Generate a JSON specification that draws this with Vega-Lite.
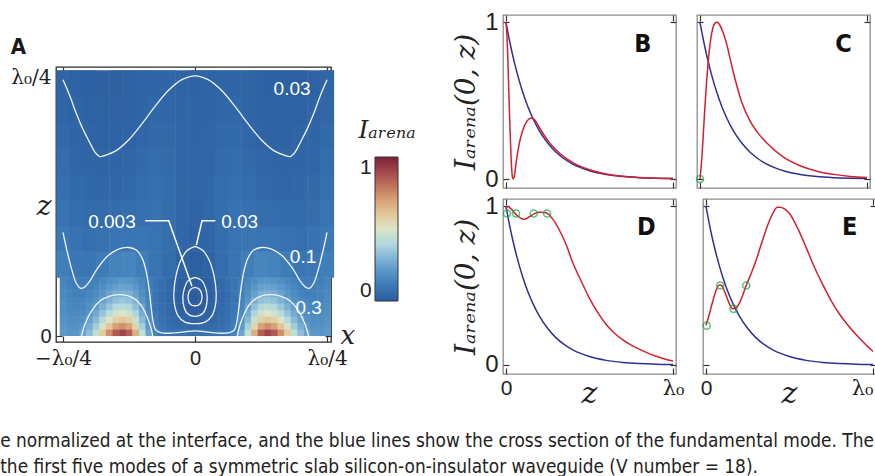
{
"$schema": "https://vega.github.io/schema/vega-lite/v6.json",
"background": "white",
"padding": {"left": 0, "top": 9, "right": 0, "bottom": 0},
"config": {
  "font": "Liberation Sans",
  "axis": {"domain": false, "grid": false, "tickColor": "#333", "tickWidth": 1.2, "tickSize": -6, "labelColor": "#222", "titleColor": "#222", "labelFlush": false, "labelOverlap": false}
},
"title": {"text": ["e normalized at the interface, and the blue lines show the cross section of the fundamental mode. The", " the first five modes of a symmetric slab silicon-on-insulator waveguide (V number = 18)."], "orient": "bottom", "anchor": "start", "font": "DejaVu Sans Condensed, Liberation Sans", "fontSize": 18.9, "fontWeight": "normal", "color": "#222", "lineHeight": 26, "offset": 23, "dx": -10},
"datasets": {
"hb": [
{"x":-1,"z":0.0125,"v":0.218},{"x":-0.95,"z":0.0125,"v":0.203},{"x":-0.9,"z":0.0125,"v":0.207},{"x":-0.85,"z":0.0125,"v":0.245},{"x":-0.8,"z":0.0125,"v":0.321},{"x":-0.75,"z":0.0125,"v":0.439},{"x":-0.7,"z":0.0125,"v":0.588},{"x":-0.65,"z":0.0125,"v":0.74},{"x":-0.6,"z":0.0125,"v":0.857},{"x":-0.55,"z":0.0125,"v":0.903},{"x":-0.5,"z":0.0125,"v":0.846},{"x":-0.45,"z":0.0125,"v":0.668},{"x":-0.4,"z":0.0125,"v":0.441},{"x":-0.35,"z":0.0125,"v":0.247},{"x":-0.3,"z":0.0125,"v":0.139},{"x":-0.25,"z":0.0125,"v":0.095},{"x":-0.2,"z":0.0125,"v":0.084},{"x":-0.15,"z":0.0125,"v":0.08},{"x":-0.1,"z":0.0125,"v":0.079},{"x":-0.05,"z":0.0125,"v":0.076},{"x":0,"z":0.0125,"v":0.076},{"x":0.05,"z":0.0125,"v":0.076},{"x":0.1,"z":0.0125,"v":0.079},{"x":0.15,"z":0.0125,"v":0.08},{"x":0.2,"z":0.0125,"v":0.084},{"x":0.25,"z":0.0125,"v":0.095},{"x":0.3,"z":0.0125,"v":0.139},{"x":0.35,"z":0.0125,"v":0.247},{"x":0.4,"z":0.0125,"v":0.441},{"x":0.45,"z":0.0125,"v":0.668},{"x":0.5,"z":0.0125,"v":0.846},{"x":0.55,"z":0.0125,"v":0.903},{"x":0.6,"z":0.0125,"v":0.857},{"x":0.65,"z":0.0125,"v":0.74},{"x":0.7,"z":0.0125,"v":0.588},{"x":0.75,"z":0.0125,"v":0.439},{"x":0.8,"z":0.0125,"v":0.321},{"x":0.85,"z":0.0125,"v":0.245},{"x":0.9,"z":0.0125,"v":0.207},{"x":0.95,"z":0.0125,"v":0.203},{"x":1,"z":0.0125,"v":0.218},
{"x":-1,"z":0.0375,"v":0.206},{"x":-0.95,"z":0.0375,"v":0.189},{"x":-0.9,"z":0.0375,"v":0.189},{"x":-0.85,"z":0.0375,"v":0.217},{"x":-0.8,"z":0.0375,"v":0.275},{"x":-0.75,"z":0.0375,"v":0.368},{"x":-0.7,"z":0.0375,"v":0.487},{"x":-0.65,"z":0.0375,"v":0.608},{"x":-0.6,"z":0.0375,"v":0.701},{"x":-0.55,"z":0.0375,"v":0.739},{"x":-0.5,"z":0.0375,"v":0.695},{"x":-0.45,"z":0.0375,"v":0.553},{"x":-0.4,"z":0.0375,"v":0.371},{"x":-0.35,"z":0.0375,"v":0.212},{"x":-0.3,"z":0.0375,"v":0.121},{"x":-0.25,"z":0.0375,"v":0.081},{"x":-0.2,"z":0.0375,"v":0.066},{"x":-0.15,"z":0.0375,"v":0.057},{"x":-0.1,"z":0.0375,"v":0.051},{"x":-0.05,"z":0.0375,"v":0.046},{"x":0,"z":0.0375,"v":0.045},{"x":0.05,"z":0.0375,"v":0.046},{"x":0.1,"z":0.0375,"v":0.051},{"x":0.15,"z":0.0375,"v":0.057},{"x":0.2,"z":0.0375,"v":0.066},{"x":0.25,"z":0.0375,"v":0.081},{"x":0.3,"z":0.0375,"v":0.121},{"x":0.35,"z":0.0375,"v":0.212},{"x":0.4,"z":0.0375,"v":0.371},{"x":0.45,"z":0.0375,"v":0.553},{"x":0.5,"z":0.0375,"v":0.695},{"x":0.55,"z":0.0375,"v":0.739},{"x":0.6,"z":0.0375,"v":0.701},{"x":0.65,"z":0.0375,"v":0.608},{"x":0.7,"z":0.0375,"v":0.487},{"x":0.75,"z":0.0375,"v":0.368},{"x":0.8,"z":0.0375,"v":0.275},{"x":0.85,"z":0.0375,"v":0.217},{"x":0.9,"z":0.0375,"v":0.189},{"x":0.95,"z":0.0375,"v":0.189},{"x":1,"z":0.0375,"v":0.206},
{"x":-1,"z":0.0625,"v":0.195},{"x":-0.95,"z":0.0625,"v":0.178},{"x":-0.9,"z":0.0625,"v":0.174},{"x":-0.85,"z":0.0625,"v":0.193},{"x":-0.8,"z":0.0625,"v":0.238},{"x":-0.75,"z":0.0625,"v":0.311},{"x":-0.7,"z":0.0625,"v":0.405},{"x":-0.65,"z":0.0625,"v":0.502},{"x":-0.6,"z":0.0625,"v":0.577},{"x":-0.55,"z":0.0625,"v":0.608},{"x":-0.5,"z":0.0625,"v":0.573},{"x":-0.45,"z":0.0625,"v":0.461},{"x":-0.4,"z":0.0625,"v":0.316},{"x":-0.35,"z":0.0625,"v":0.186},{"x":-0.3,"z":0.0625,"v":0.108},{"x":-0.25,"z":0.0625,"v":0.072},{"x":-0.2,"z":0.0625,"v":0.054},{"x":-0.15,"z":0.0625,"v":0.042},{"x":-0.1,"z":0.0625,"v":0.032},{"x":-0.05,"z":0.0625,"v":0.026},{"x":0,"z":0.0625,"v":0.025},{"x":0.05,"z":0.0625,"v":0.026},{"x":0.1,"z":0.0625,"v":0.032},{"x":0.15,"z":0.0625,"v":0.042},{"x":0.2,"z":0.0625,"v":0.054},{"x":0.25,"z":0.0625,"v":0.072},{"x":0.3,"z":0.0625,"v":0.108},{"x":0.35,"z":0.0625,"v":0.186},{"x":0.4,"z":0.0625,"v":0.316},{"x":0.45,"z":0.0625,"v":0.461},{"x":0.5,"z":0.0625,"v":0.573},{"x":0.55,"z":0.0625,"v":0.608},{"x":0.6,"z":0.0625,"v":0.577},{"x":0.65,"z":0.0625,"v":0.502},{"x":0.7,"z":0.0625,"v":0.405},{"x":0.75,"z":0.0625,"v":0.311},{"x":0.8,"z":0.0625,"v":0.238},{"x":0.85,"z":0.0625,"v":0.193},{"x":0.9,"z":0.0625,"v":0.174},{"x":0.95,"z":0.0625,"v":0.178},{"x":1,"z":0.0625,"v":0.195},
{"x":-1,"z":0.0875,"v":0.185},{"x":-0.95,"z":0.0875,"v":0.167},{"x":-0.9,"z":0.0875,"v":0.16},{"x":-0.85,"z":0.0875,"v":0.173},{"x":-0.8,"z":0.0875,"v":0.207},{"x":-0.75,"z":0.0875,"v":0.264},{"x":-0.7,"z":0.0875,"v":0.339},{"x":-0.65,"z":0.0875,"v":0.416},{"x":-0.6,"z":0.0875,"v":0.476},{"x":-0.55,"z":0.0875,"v":0.502},{"x":-0.5,"z":0.0875,"v":0.475},{"x":-0.45,"z":0.0875,"v":0.387},{"x":-0.4,"z":0.0875,"v":0.271},{"x":-0.35,"z":0.0875,"v":0.165},{"x":-0.3,"z":0.0875,"v":0.1},{"x":-0.25,"z":0.0875,"v":0.067},{"x":-0.2,"z":0.0875,"v":0.048},{"x":-0.15,"z":0.0875,"v":0.033},{"x":-0.1,"z":0.0875,"v":0.021},{"x":-0.05,"z":0.0875,"v":0.014},{"x":0,"z":0.0875,"v":0.012},{"x":0.05,"z":0.0875,"v":0.014},{"x":0.1,"z":0.0875,"v":0.021},{"x":0.15,"z":0.0875,"v":0.033},{"x":0.2,"z":0.0875,"v":0.048},{"x":0.25,"z":0.0875,"v":0.067},{"x":0.3,"z":0.0875,"v":0.1},{"x":0.35,"z":0.0875,"v":0.165},{"x":0.4,"z":0.0875,"v":0.271},{"x":0.45,"z":0.0875,"v":0.387},{"x":0.5,"z":0.0875,"v":0.475},{"x":0.55,"z":0.0875,"v":0.502},{"x":0.6,"z":0.0875,"v":0.476},{"x":0.65,"z":0.0875,"v":0.416},{"x":0.7,"z":0.0875,"v":0.339},{"x":0.75,"z":0.0875,"v":0.264},{"x":0.8,"z":0.0875,"v":0.207},{"x":0.85,"z":0.0875,"v":0.173},{"x":0.9,"z":0.0875,"v":0.16},{"x":0.95,"z":0.0875,"v":0.167},{"x":1,"z":0.0875,"v":0.185},
{"x":-1,"z":0.1125,"v":0.175},{"x":-0.95,"z":0.1125,"v":0.157},{"x":-0.9,"z":0.1125,"v":0.148},{"x":-0.85,"z":0.1125,"v":0.157},{"x":-0.8,"z":0.1125,"v":0.182},{"x":-0.75,"z":0.1125,"v":0.226},{"x":-0.7,"z":0.1125,"v":0.286},{"x":-0.65,"z":0.1125,"v":0.347},{"x":-0.6,"z":0.1125,"v":0.396},{"x":-0.55,"z":0.1125,"v":0.417},{"x":-0.5,"z":0.1125,"v":0.396},{"x":-0.45,"z":0.1125,"v":0.328},{"x":-0.4,"z":0.1125,"v":0.235},{"x":-0.35,"z":0.1125,"v":0.149},{"x":-0.3,"z":0.1125,"v":0.094},{"x":-0.25,"z":0.1125,"v":0.065},{"x":-0.2,"z":0.1125,"v":0.045},{"x":-0.15,"z":0.1125,"v":0.028},{"x":-0.1,"z":0.1125,"v":0.014},{"x":-0.05,"z":0.1125,"v":0.007},{"x":0,"z":0.1125,"v":0.004},{"x":0.05,"z":0.1125,"v":0.007},{"x":0.1,"z":0.1125,"v":0.014},{"x":0.15,"z":0.1125,"v":0.028},{"x":0.2,"z":0.1125,"v":0.045},{"x":0.25,"z":0.1125,"v":0.065},{"x":0.3,"z":0.1125,"v":0.094},{"x":0.35,"z":0.1125,"v":0.149},{"x":0.4,"z":0.1125,"v":0.235},{"x":0.45,"z":0.1125,"v":0.328},{"x":0.5,"z":0.1125,"v":0.396},{"x":0.55,"z":0.1125,"v":0.417},{"x":0.6,"z":0.1125,"v":0.396},{"x":0.65,"z":0.1125,"v":0.347},{"x":0.7,"z":0.1125,"v":0.286},{"x":0.75,"z":0.1125,"v":0.226},{"x":0.8,"z":0.1125,"v":0.182},{"x":0.85,"z":0.1125,"v":0.157},{"x":0.9,"z":0.1125,"v":0.148},{"x":0.95,"z":0.1125,"v":0.157},{"x":1,"z":0.1125,"v":0.175},
{"x":-1,"z":0.1375,"v":0.166},{"x":-0.95,"z":0.1375,"v":0.148},{"x":-0.9,"z":0.1375,"v":0.138},{"x":-0.85,"z":0.1375,"v":0.142},{"x":-0.8,"z":0.1375,"v":0.161},{"x":-0.75,"z":0.1375,"v":0.195},{"x":-0.7,"z":0.1375,"v":0.243},{"x":-0.65,"z":0.1375,"v":0.292},{"x":-0.6,"z":0.1375,"v":0.331},{"x":-0.55,"z":0.1375,"v":0.348},{"x":-0.5,"z":0.1375,"v":0.333},{"x":-0.45,"z":0.1375,"v":0.279},{"x":-0.4,"z":0.1375,"v":0.206},{"x":-0.35,"z":0.1375,"v":0.137},{"x":-0.3,"z":0.1375,"v":0.091},{"x":-0.25,"z":0.1375,"v":0.065},{"x":-0.2,"z":0.1375,"v":0.044},{"x":-0.15,"z":0.1375,"v":0.026},{"x":-0.1,"z":0.1375,"v":0.011},{"x":-0.05,"z":0.1375,"v":0.004},{"x":0,"z":0.1375,"v":0.001},{"x":0.05,"z":0.1375,"v":0.004},{"x":0.1,"z":0.1375,"v":0.011},{"x":0.15,"z":0.1375,"v":0.026},{"x":0.2,"z":0.1375,"v":0.044},{"x":0.25,"z":0.1375,"v":0.065},{"x":0.3,"z":0.1375,"v":0.091},{"x":0.35,"z":0.1375,"v":0.137},{"x":0.4,"z":0.1375,"v":0.206},{"x":0.45,"z":0.1375,"v":0.279},{"x":0.5,"z":0.1375,"v":0.333},{"x":0.55,"z":0.1375,"v":0.348},{"x":0.6,"z":0.1375,"v":0.331},{"x":0.65,"z":0.1375,"v":0.292},{"x":0.7,"z":0.1375,"v":0.243},{"x":0.75,"z":0.1375,"v":0.195},{"x":0.8,"z":0.1375,"v":0.161},{"x":0.85,"z":0.1375,"v":0.142},{"x":0.9,"z":0.1375,"v":0.138},{"x":0.95,"z":0.1375,"v":0.148},{"x":1,"z":0.1375,"v":0.166},
{"x":-1,"z":0.1625,"v":0.158},{"x":-0.95,"z":0.1625,"v":0.139},{"x":-0.9,"z":0.1625,"v":0.129},{"x":-0.85,"z":0.1625,"v":0.13},{"x":-0.8,"z":0.1625,"v":0.143},{"x":-0.75,"z":0.1625,"v":0.17},{"x":-0.7,"z":0.1625,"v":0.207},{"x":-0.65,"z":0.1625,"v":0.247},{"x":-0.6,"z":0.1625,"v":0.278},{"x":-0.55,"z":0.1625,"v":0.293},{"x":-0.5,"z":0.1625,"v":0.281},{"x":-0.45,"z":0.1625,"v":0.24},{"x":-0.4,"z":0.1625,"v":0.183},{"x":-0.35,"z":0.1625,"v":0.127},{"x":-0.3,"z":0.1625,"v":0.089},{"x":-0.25,"z":0.1625,"v":0.066},{"x":-0.2,"z":0.1625,"v":0.045},{"x":-0.15,"z":0.1625,"v":0.026},{"x":-0.1,"z":0.1625,"v":0.011},{"x":-0.05,"z":0.1625,"v":0.003},{"x":0,"z":0.1625,"v":0},{"x":0.05,"z":0.1625,"v":0.003},{"x":0.1,"z":0.1625,"v":0.011},{"x":0.15,"z":0.1625,"v":0.026},{"x":0.2,"z":0.1625,"v":0.045},{"x":0.25,"z":0.1625,"v":0.066},{"x":0.3,"z":0.1625,"v":0.089},{"x":0.35,"z":0.1625,"v":0.127},{"x":0.4,"z":0.1625,"v":0.183},{"x":0.45,"z":0.1625,"v":0.24},{"x":0.5,"z":0.1625,"v":0.281},{"x":0.55,"z":0.1625,"v":0.293},{"x":0.6,"z":0.1625,"v":0.278},{"x":0.65,"z":0.1625,"v":0.247},{"x":0.7,"z":0.1625,"v":0.207},{"x":0.75,"z":0.1625,"v":0.17},{"x":0.8,"z":0.1625,"v":0.143},{"x":0.85,"z":0.1625,"v":0.13},{"x":0.9,"z":0.1625,"v":0.129},{"x":0.95,"z":0.1625,"v":0.139},{"x":1,"z":0.1625,"v":0.158},
{"x":-1,"z":0.1875,"v":0.15},{"x":-0.95,"z":0.1875,"v":0.132},{"x":-0.9,"z":0.1875,"v":0.12},{"x":-0.85,"z":0.1875,"v":0.12},{"x":-0.8,"z":0.1875,"v":0.129},{"x":-0.75,"z":0.1875,"v":0.149},{"x":-0.7,"z":0.1875,"v":0.179},{"x":-0.65,"z":0.1875,"v":0.21},{"x":-0.6,"z":0.1875,"v":0.236},{"x":-0.55,"z":0.1875,"v":0.248},{"x":-0.5,"z":0.1875,"v":0.239},{"x":-0.45,"z":0.1875,"v":0.208},{"x":-0.4,"z":0.1875,"v":0.164},{"x":-0.35,"z":0.1875,"v":0.12},{"x":-0.3,"z":0.1875,"v":0.088},{"x":-0.25,"z":0.1875,"v":0.067},{"x":-0.2,"z":0.1875,"v":0.047},{"x":-0.15,"z":0.1875,"v":0.028},{"x":-0.1,"z":0.1875,"v":0.013},{"x":-0.05,"z":0.1875,"v":0.005},{"x":0,"z":0.1875,"v":0.001},{"x":0.05,"z":0.1875,"v":0.005},{"x":0.1,"z":0.1875,"v":0.013},{"x":0.15,"z":0.1875,"v":0.028},{"x":0.2,"z":0.1875,"v":0.047},{"x":0.25,"z":0.1875,"v":0.067},{"x":0.3,"z":0.1875,"v":0.088},{"x":0.35,"z":0.1875,"v":0.12},{"x":0.4,"z":0.1875,"v":0.164},{"x":0.45,"z":0.1875,"v":0.208},{"x":0.5,"z":0.1875,"v":0.239},{"x":0.55,"z":0.1875,"v":0.248},{"x":0.6,"z":0.1875,"v":0.236},{"x":0.65,"z":0.1875,"v":0.21},{"x":0.7,"z":0.1875,"v":0.179},{"x":0.75,"z":0.1875,"v":0.149},{"x":0.8,"z":0.1875,"v":0.129},{"x":0.85,"z":0.1875,"v":0.12},{"x":0.9,"z":0.1875,"v":0.12},{"x":0.95,"z":0.1875,"v":0.132},{"x":1,"z":0.1875,"v":0.15},
{"x":-1,"z":0.2125,"v":0.142},{"x":-0.95,"z":0.2125,"v":0.125},{"x":-0.9,"z":0.2125,"v":0.113},{"x":-0.85,"z":0.2125,"v":0.111},{"x":-0.8,"z":0.2125,"v":0.116},{"x":-0.75,"z":0.2125,"v":0.132},{"x":-0.7,"z":0.2125,"v":0.155},{"x":-0.65,"z":0.2125,"v":0.18},{"x":-0.6,"z":0.2125,"v":0.201},{"x":-0.55,"z":0.2125,"v":0.211},{"x":-0.5,"z":0.2125,"v":0.205},{"x":-0.45,"z":0.2125,"v":0.182},{"x":-0.4,"z":0.2125,"v":0.149},{"x":-0.35,"z":0.2125,"v":0.114},{"x":-0.3,"z":0.2125,"v":0.088},{"x":-0.25,"z":0.2125,"v":0.07},{"x":-0.2,"z":0.2125,"v":0.05},{"x":-0.15,"z":0.2125,"v":0.031},{"x":-0.1,"z":0.2125,"v":0.015},{"x":-0.05,"z":0.2125,"v":0.007},{"x":0,"z":0.2125,"v":0.004},{"x":0.05,"z":0.2125,"v":0.007},{"x":0.1,"z":0.2125,"v":0.015},{"x":0.15,"z":0.2125,"v":0.031},{"x":0.2,"z":0.2125,"v":0.05},{"x":0.25,"z":0.2125,"v":0.07},{"x":0.3,"z":0.2125,"v":0.088},{"x":0.35,"z":0.2125,"v":0.114},{"x":0.4,"z":0.2125,"v":0.149},{"x":0.45,"z":0.2125,"v":0.182},{"x":0.5,"z":0.2125,"v":0.205},{"x":0.55,"z":0.2125,"v":0.211},{"x":0.6,"z":0.2125,"v":0.201},{"x":0.65,"z":0.2125,"v":0.18},{"x":0.7,"z":0.2125,"v":0.155},{"x":0.75,"z":0.2125,"v":0.132},{"x":0.8,"z":0.2125,"v":0.116},{"x":0.85,"z":0.2125,"v":0.111},{"x":0.9,"z":0.2125,"v":0.113},{"x":0.95,"z":0.2125,"v":0.125},{"x":1,"z":0.2125,"v":0.142}
],
"ht": [
{"x":-1,"z":0.275,"v":0.125},{"x":-0.9,"z":0.275,"v":0.097},{"x":-0.8,"z":0.275,"v":0.093},{"x":-0.7,"z":0.275,"v":0.113},{"x":-0.6,"z":0.275,"v":0.14},{"x":-0.5,"z":0.275,"v":0.145},{"x":-0.4,"z":0.275,"v":0.121},{"x":-0.3,"z":0.275,"v":0.089},{"x":-0.2,"z":0.275,"v":0.058},{"x":-0.1,"z":0.275,"v":0.024},{"x":0,"z":0.275,"v":0.013},{"x":0.1,"z":0.275,"v":0.024},{"x":0.2,"z":0.275,"v":0.058},{"x":0.3,"z":0.275,"v":0.089},{"x":0.4,"z":0.275,"v":0.121},{"x":0.5,"z":0.275,"v":0.145},{"x":0.6,"z":0.275,"v":0.14},{"x":0.7,"z":0.275,"v":0.113},{"x":0.8,"z":0.275,"v":0.093},{"x":0.9,"z":0.275,"v":0.097},{"x":1,"z":0.275,"v":0.125},
{"x":-1,"z":0.375,"v":0.102},{"x":-0.9,"z":0.375,"v":0.078},{"x":-0.8,"z":0.375,"v":0.069},{"x":-0.7,"z":0.375,"v":0.074},{"x":-0.6,"z":0.375,"v":0.086},{"x":-0.5,"z":0.375,"v":0.091},{"x":-0.4,"z":0.375,"v":0.092},{"x":-0.3,"z":0.375,"v":0.084},{"x":-0.2,"z":0.375,"v":0.063},{"x":-0.1,"z":0.375,"v":0.035},{"x":0,"z":0.375,"v":0.026},{"x":0.1,"z":0.375,"v":0.035},{"x":0.2,"z":0.375,"v":0.063},{"x":0.3,"z":0.375,"v":0.084},{"x":0.4,"z":0.375,"v":0.092},{"x":0.5,"z":0.375,"v":0.091},{"x":0.6,"z":0.375,"v":0.086},{"x":0.7,"z":0.375,"v":0.074},{"x":0.8,"z":0.375,"v":0.069},{"x":0.9,"z":0.375,"v":0.078},{"x":1,"z":0.375,"v":0.102},
{"x":-1,"z":0.475,"v":0.083},{"x":-0.9,"z":0.475,"v":0.062},{"x":-0.8,"z":0.475,"v":0.053},{"x":-0.7,"z":0.475,"v":0.053},{"x":-0.6,"z":0.475,"v":0.059},{"x":-0.5,"z":0.475,"v":0.064},{"x":-0.4,"z":0.475,"v":0.073},{"x":-0.3,"z":0.475,"v":0.076},{"x":-0.2,"z":0.475,"v":0.063},{"x":-0.1,"z":0.475,"v":0.042},{"x":0,"z":0.475,"v":0.035},{"x":0.1,"z":0.475,"v":0.042},{"x":0.2,"z":0.475,"v":0.063},{"x":0.3,"z":0.475,"v":0.076},{"x":0.4,"z":0.475,"v":0.073},{"x":0.5,"z":0.475,"v":0.064},{"x":0.6,"z":0.475,"v":0.059},{"x":0.7,"z":0.475,"v":0.053},{"x":0.8,"z":0.475,"v":0.053},{"x":0.9,"z":0.475,"v":0.062},{"x":1,"z":0.475,"v":0.083},
{"x":-1,"z":0.575,"v":0.068},{"x":-0.9,"z":0.575,"v":0.051},{"x":-0.8,"z":0.575,"v":0.042},{"x":-0.7,"z":0.575,"v":0.041},{"x":-0.6,"z":0.575,"v":0.044},{"x":-0.5,"z":0.575,"v":0.048},{"x":-0.4,"z":0.575,"v":0.06},{"x":-0.3,"z":0.575,"v":0.067},{"x":-0.2,"z":0.575,"v":0.06},{"x":-0.1,"z":0.575,"v":0.043},{"x":0,"z":0.575,"v":0.038},{"x":0.1,"z":0.575,"v":0.043},{"x":0.2,"z":0.575,"v":0.06},{"x":0.3,"z":0.575,"v":0.067},{"x":0.4,"z":0.575,"v":0.06},{"x":0.5,"z":0.575,"v":0.048},{"x":0.6,"z":0.575,"v":0.044},{"x":0.7,"z":0.575,"v":0.041},{"x":0.8,"z":0.575,"v":0.042},{"x":0.9,"z":0.575,"v":0.051},{"x":1,"z":0.575,"v":0.068},
{"x":-1,"z":0.675,"v":0.056},{"x":-0.9,"z":0.675,"v":0.041},{"x":-0.8,"z":0.675,"v":0.034},{"x":-0.7,"z":0.675,"v":0.032},{"x":-0.6,"z":0.675,"v":0.034},{"x":-0.5,"z":0.675,"v":0.037},{"x":-0.4,"z":0.675,"v":0.049},{"x":-0.3,"z":0.675,"v":0.059},{"x":-0.2,"z":0.675,"v":0.054},{"x":-0.1,"z":0.675,"v":0.041},{"x":0,"z":0.675,"v":0.038},{"x":0.1,"z":0.675,"v":0.041},{"x":0.2,"z":0.675,"v":0.054},{"x":0.3,"z":0.675,"v":0.059},{"x":0.4,"z":0.675,"v":0.049},{"x":0.5,"z":0.675,"v":0.037},{"x":0.6,"z":0.675,"v":0.034},{"x":0.7,"z":0.675,"v":0.032},{"x":0.8,"z":0.675,"v":0.034},{"x":0.9,"z":0.675,"v":0.041},{"x":1,"z":0.675,"v":0.056},
{"x":-1,"z":0.775,"v":0.046},{"x":-0.9,"z":0.775,"v":0.034},{"x":-0.8,"z":0.775,"v":0.028},{"x":-0.7,"z":0.775,"v":0.026},{"x":-0.6,"z":0.775,"v":0.027},{"x":-0.5,"z":0.775,"v":0.03},{"x":-0.4,"z":0.775,"v":0.041},{"x":-0.3,"z":0.775,"v":0.05},{"x":-0.2,"z":0.775,"v":0.047},{"x":-0.1,"z":0.775,"v":0.038},{"x":0,"z":0.775,"v":0.035},{"x":0.1,"z":0.775,"v":0.038},{"x":0.2,"z":0.775,"v":0.047},{"x":0.3,"z":0.775,"v":0.05},{"x":0.4,"z":0.775,"v":0.041},{"x":0.5,"z":0.775,"v":0.03},{"x":0.6,"z":0.775,"v":0.027},{"x":0.7,"z":0.775,"v":0.026},{"x":0.8,"z":0.775,"v":0.028},{"x":0.9,"z":0.775,"v":0.034},{"x":1,"z":0.775,"v":0.046},
{"x":-1,"z":0.875,"v":0.037},{"x":-0.9,"z":0.875,"v":0.028},{"x":-0.8,"z":0.875,"v":0.023},{"x":-0.7,"z":0.875,"v":0.021},{"x":-0.6,"z":0.875,"v":0.022},{"x":-0.5,"z":0.875,"v":0.024},{"x":-0.4,"z":0.875,"v":0.034},{"x":-0.3,"z":0.875,"v":0.042},{"x":-0.2,"z":0.875,"v":0.041},{"x":-0.1,"z":0.875,"v":0.033},{"x":0,"z":0.875,"v":0.031},{"x":0.1,"z":0.875,"v":0.033},{"x":0.2,"z":0.875,"v":0.041},{"x":0.3,"z":0.875,"v":0.042},{"x":0.4,"z":0.875,"v":0.034},{"x":0.5,"z":0.875,"v":0.024},{"x":0.6,"z":0.875,"v":0.022},{"x":0.7,"z":0.875,"v":0.021},{"x":0.8,"z":0.875,"v":0.023},{"x":0.9,"z":0.875,"v":0.028},{"x":1,"z":0.875,"v":0.037},
{"x":-1,"z":0.975,"v":0.031},{"x":-0.9,"z":0.975,"v":0.023},{"x":-0.8,"z":0.975,"v":0.019},{"x":-0.7,"z":0.975,"v":0.017},{"x":-0.6,"z":0.975,"v":0.018},{"x":-0.5,"z":0.975,"v":0.02},{"x":-0.4,"z":0.975,"v":0.028},{"x":-0.3,"z":0.975,"v":0.036},{"x":-0.2,"z":0.975,"v":0.035},{"x":-0.1,"z":0.975,"v":0.029},{"x":0,"z":0.975,"v":0.027},{"x":0.1,"z":0.975,"v":0.029},{"x":0.2,"z":0.975,"v":0.035},{"x":0.3,"z":0.975,"v":0.036},{"x":0.4,"z":0.975,"v":0.028},{"x":0.5,"z":0.975,"v":0.02},{"x":0.6,"z":0.975,"v":0.018},{"x":0.7,"z":0.975,"v":0.017},{"x":0.8,"z":0.975,"v":0.019},{"x":0.9,"z":0.975,"v":0.023},{"x":1,"z":0.975,"v":0.031}
],
"cont": [
{"c":"top","i":0,"x":-1,"z":0.99},{"c":"top","i":1,"x":-0.95,"z":0.93},{"c":"top","i":2,"x":-0.9,"z":0.86},{"c":"top","i":3,"x":-0.85,"z":0.8},{"c":"top","i":4,"x":-0.8,"z":0.75},{"c":"top","i":5,"x":-0.76,"z":0.712},{"c":"top","i":6,"x":-0.72,"z":0.693},{"c":"top","i":7,"x":-0.68,"z":0.698},{"c":"top","i":8,"x":-0.6,"z":0.715},{"c":"top","i":9,"x":-0.5,"z":0.759},{"c":"top","i":10,"x":-0.4,"z":0.821},{"c":"top","i":11,"x":-0.3,"z":0.889},{"c":"top","i":12,"x":-0.2,"z":0.949},{"c":"top","i":13,"x":-0.1,"z":0.99},{"c":"top","i":14,"x":0,"z":1.005},{"c":"top","i":15,"x":0.1,"z":0.99},{"c":"top","i":16,"x":0.2,"z":0.949},{"c":"top","i":17,"x":0.3,"z":0.889},{"c":"top","i":18,"x":0.4,"z":0.821},{"c":"top","i":19,"x":0.5,"z":0.759},{"c":"top","i":20,"x":0.6,"z":0.715},{"c":"top","i":21,"x":0.68,"z":0.698},{"c":"top","i":22,"x":0.72,"z":0.693},{"c":"top","i":23,"x":0.76,"z":0.712},{"c":"top","i":24,"x":0.8,"z":0.75},{"c":"top","i":25,"x":0.85,"z":0.8},{"c":"top","i":26,"x":0.9,"z":0.86},{"c":"top","i":27,"x":0.95,"z":0.93},{"c":"top","i":28,"x":1,"z":0.99},
{"c":"c1","i":0,"x":-1,"z":0.4},{"c":"c1","i":1,"x":-0.97,"z":0.33},{"c":"c1","i":2,"x":-0.93,"z":0.25},{"c":"c1","i":3,"x":-0.9,"z":0.205},{"c":"c1","i":4,"x":-0.87,"z":0.185},{"c":"c1","i":5,"x":-0.84,"z":0.188},{"c":"c1","i":6,"x":-0.8,"z":0.21},{"c":"c1","i":7,"x":-0.74,"z":0.26},{"c":"c1","i":8,"x":-0.66,"z":0.31},{"c":"c1","i":9,"x":-0.58,"z":0.336},{"c":"c1","i":10,"x":-0.5,"z":0.342},{"c":"c1","i":11,"x":-0.44,"z":0.33},{"c":"c1","i":12,"x":-0.4,"z":0.3},{"c":"c1","i":13,"x":-0.37,"z":0.25},{"c":"c1","i":14,"x":-0.345,"z":0.17},{"c":"c1","i":15,"x":-0.33,"z":0.1},{"c":"c1","i":16,"x":-0.315,"z":0.05},{"c":"c1","i":17,"x":-0.3,"z":0.025},{"c":"c1","i":18,"x":-0.26,"z":0.013},{"c":"c1","i":19,"x":-0.18,"z":0.011},{"c":"c1","i":20,"x":-0.08,"z":0.016},{"c":"c1","i":21,"x":0,"z":0.02},{"c":"c1","i":22,"x":0.08,"z":0.016},{"c":"c1","i":23,"x":0.18,"z":0.011},{"c":"c1","i":24,"x":0.26,"z":0.013},{"c":"c1","i":25,"x":0.3,"z":0.025},{"c":"c1","i":26,"x":0.315,"z":0.05},{"c":"c1","i":27,"x":0.33,"z":0.1},{"c":"c1","i":28,"x":0.345,"z":0.17},{"c":"c1","i":29,"x":0.37,"z":0.25},{"c":"c1","i":30,"x":0.4,"z":0.3},{"c":"c1","i":31,"x":0.44,"z":0.33},{"c":"c1","i":32,"x":0.5,"z":0.342},{"c":"c1","i":33,"x":0.58,"z":0.336},{"c":"c1","i":34,"x":0.66,"z":0.31},{"c":"c1","i":35,"x":0.74,"z":0.26},{"c":"c1","i":36,"x":0.8,"z":0.21},{"c":"c1","i":37,"x":0.84,"z":0.188},{"c":"c1","i":38,"x":0.87,"z":0.185},{"c":"c1","i":39,"x":0.9,"z":0.205},{"c":"c1","i":40,"x":0.93,"z":0.25},{"c":"c1","i":41,"x":0.97,"z":0.33},{"c":"c1","i":42,"x":1,"z":0.4},
{"c":"c3L","i":0,"x":-0.86,"z":0},{"c":"c3L","i":1,"x":-0.83,"z":0.05},{"c":"c3L","i":2,"x":-0.78,"z":0.1},{"c":"c3L","i":3,"x":-0.72,"z":0.135},{"c":"c3L","i":4,"x":-0.64,"z":0.155},{"c":"c3L","i":5,"x":-0.56,"z":0.16},{"c":"c3L","i":6,"x":-0.48,"z":0.15},{"c":"c3L","i":7,"x":-0.41,"z":0.12},{"c":"c3L","i":8,"x":-0.36,"z":0.07},{"c":"c3L","i":9,"x":-0.33,"z":0.025},{"c":"c3L","i":10,"x":-0.32,"z":0},
{"c":"c3R","i":0,"x":0.32,"z":0},{"c":"c3R","i":1,"x":0.33,"z":0.025},{"c":"c3R","i":2,"x":0.36,"z":0.07},{"c":"c3R","i":3,"x":0.41,"z":0.12},{"c":"c3R","i":4,"x":0.48,"z":0.15},{"c":"c3R","i":5,"x":0.56,"z":0.16},{"c":"c3R","i":6,"x":0.64,"z":0.155},{"c":"c3R","i":7,"x":0.72,"z":0.135},{"c":"c3R","i":8,"x":0.78,"z":0.1},{"c":"c3R","i":9,"x":0.83,"z":0.05},{"c":"c3R","i":10,"x":0.86,"z":0},
{"c":"L3","i":0,"x":0,"z":0.346},{"c":"L3","i":1,"x":0.06,"z":0.33},{"c":"L3","i":2,"x":0.11,"z":0.29},{"c":"L3","i":3,"x":0.145,"z":0.23},{"c":"L3","i":4,"x":0.16,"z":0.17},{"c":"L3","i":5,"x":0.155,"z":0.12},{"c":"L3","i":6,"x":0.13,"z":0.08},{"c":"L3","i":7,"x":0.08,"z":0.055},{"c":"L3","i":8,"x":0,"z":0.048},{"c":"L3","i":9,"x":-0.08,"z":0.055},{"c":"L3","i":10,"x":-0.13,"z":0.08},{"c":"L3","i":11,"x":-0.155,"z":0.12},{"c":"L3","i":12,"x":-0.16,"z":0.17},{"c":"L3","i":13,"x":-0.145,"z":0.23},{"c":"L3","i":14,"x":-0.11,"z":0.29},{"c":"L3","i":15,"x":-0.06,"z":0.33},{"c":"L3","i":16,"x":0,"z":0.346},
{"c":"L2","i":0,"x":0,"z":0.227},{"c":"L2","i":1,"x":0.05,"z":0.215},{"c":"L2","i":2,"x":0.08,"z":0.185},{"c":"L2","i":3,"x":0.092,"z":0.15},{"c":"L2","i":4,"x":0.085,"z":0.115},{"c":"L2","i":5,"x":0.06,"z":0.088},{"c":"L2","i":6,"x":0,"z":0.076},{"c":"L2","i":7,"x":-0.06,"z":0.088},{"c":"L2","i":8,"x":-0.085,"z":0.115},{"c":"L2","i":9,"x":-0.092,"z":0.15},{"c":"L2","i":10,"x":-0.08,"z":0.185},{"c":"L2","i":11,"x":-0.05,"z":0.215},{"c":"L2","i":12,"x":0,"z":0.227},
{"c":"L1","i":0,"x":0,"z":0.188},{"c":"L1","i":1,"x":0.035,"z":0.18},{"c":"L1","i":2,"x":0.053,"z":0.155},{"c":"L1","i":3,"x":0.045,"z":0.13},{"c":"L1","i":4,"x":0.025,"z":0.119},{"c":"L1","i":5,"x":0,"z":0.117},{"c":"L1","i":6,"x":-0.025,"z":0.119},{"c":"L1","i":7,"x":-0.045,"z":0.13},{"c":"L1","i":8,"x":-0.053,"z":0.155},{"c":"L1","i":9,"x":-0.035,"z":0.18},{"c":"L1","i":10,"x":0,"z":0.188}
],
"lead": [
{"c":"a","i":0,"x":-0.377,"z":0.445},{"c":"a","i":1,"x":-0.199,"z":0.445},{"c":"a","i":2,"x":-0.023,"z":0.192},
{"c":"b","i":0,"x":0.154,"z":0.445},{"c":"b","i":1,"x":0.053,"z":0.445},{"c":"b","i":2,"x":0.01,"z":0.351}
],
"alabs": [
{"t":"0.03","x":0.735,"z":0.954},{"t":"0.003","x":-0.629,"z":0.441},{"t":"0.03","x":0.338,"z":0.441},{"t":"0.1","x":0.818,"z":0.306},{"t":"0.3","x":0.861,"z":0.107}
],
"curves": [
{"s":"blue","z":0,"v":1},{"s":"blue","z":0.02,"v":0.889},{"s":"blue","z":0.04,"v":0.79},{"s":"blue","z":0.06,"v":0.703},{"s":"blue","z":0.08,"v":0.625},{"s":"blue","z":0.1,"v":0.555},{"s":"blue","z":0.13,"v":0.465},{"s":"blue","z":0.16,"v":0.39},{"s":"blue","z":0.2,"v":0.308},{"s":"blue","z":0.25,"v":0.23},{"s":"blue","z":0.3,"v":0.171},{"s":"blue","z":0.35,"v":0.128},{"s":"blue","z":0.4,"v":0.095},{"s":"blue","z":0.5,"v":0.053},{"s":"blue","z":0.6,"v":0.029},{"s":"blue","z":0.7,"v":0.016},{"s":"blue","z":0.8,"v":0.009},{"s":"blue","z":0.9,"v":0.005},{"s":"blue","z":1,"v":0.003},
{"s":"B","z":0,"v":1},{"s":"B","z":0.005,"v":0.93},{"s":"B","z":0.01,"v":0.8},{"s":"B","z":0.015,"v":0.63},{"s":"B","z":0.02,"v":0.45},{"s":"B","z":0.025,"v":0.29},{"s":"B","z":0.03,"v":0.15},{"s":"B","z":0.035,"v":0.05},{"s":"B","z":0.04,"v":0.005},{"s":"B","z":0.045,"v":0.002},{"s":"B","z":0.05,"v":0.02},{"s":"B","z":0.06,"v":0.1},{"s":"B","z":0.07,"v":0.17},{"s":"B","z":0.08,"v":0.23},{"s":"B","z":0.1,"v":0.31},{"s":"B","z":0.12,"v":0.36},{"s":"B","z":0.14,"v":0.385},{"s":"B","z":0.155,"v":0.39},{"s":"B","z":0.17,"v":0.38},{"s":"B","z":0.2,"v":0.328},{"s":"B","z":0.25,"v":0.247},{"s":"B","z":0.3,"v":0.185},{"s":"B","z":0.35,"v":0.14},{"s":"B","z":0.4,"v":0.105},{"s":"B","z":0.5,"v":0.06},{"s":"B","z":0.6,"v":0.033},{"s":"B","z":0.7,"v":0.018},{"s":"B","z":0.8,"v":0.01},{"s":"B","z":0.9,"v":0.005},{"s":"B","z":1,"v":0.003},
{"s":"C","z":0,"v":0},{"s":"C","z":0.01,"v":0.12},{"s":"C","z":0.02,"v":0.29},{"s":"C","z":0.03,"v":0.47},{"s":"C","z":0.04,"v":0.63},{"s":"C","z":0.05,"v":0.76},{"s":"C","z":0.06,"v":0.86},{"s":"C","z":0.07,"v":0.93},{"s":"C","z":0.08,"v":0.975},{"s":"C","z":0.09,"v":0.995},{"s":"C","z":0.1,"v":1},{"s":"C","z":0.11,"v":0.995},{"s":"C","z":0.12,"v":0.98},{"s":"C","z":0.14,"v":0.93},{"s":"C","z":0.16,"v":0.86},{"s":"C","z":0.18,"v":0.77},{"s":"C","z":0.2,"v":0.68},{"s":"C","z":0.25,"v":0.49},{"s":"C","z":0.3,"v":0.37},{"s":"C","z":0.35,"v":0.29},{"s":"C","z":0.4,"v":0.23},{"s":"C","z":0.5,"v":0.14},{"s":"C","z":0.6,"v":0.085},{"s":"C","z":0.7,"v":0.05},{"s":"C","z":0.8,"v":0.03},{"s":"C","z":0.9,"v":0.017},{"s":"C","z":1,"v":0.01},
{"s":"D","z":0,"v":0.985},{"s":"D","z":0.01,"v":1},{"s":"D","z":0.03,"v":0.985},{"s":"D","z":0.06,"v":0.95},{"s":"D","z":0.09,"v":0.925},{"s":"D","z":0.11,"v":0.92},{"s":"D","z":0.14,"v":0.935},{"s":"D","z":0.17,"v":0.955},{"s":"D","z":0.2,"v":0.963},{"s":"D","z":0.23,"v":0.962},{"s":"D","z":0.25,"v":0.955},{"s":"D","z":0.28,"v":0.92},{"s":"D","z":0.32,"v":0.85},{"s":"D","z":0.36,"v":0.76},{"s":"D","z":0.4,"v":0.645},{"s":"D","z":0.45,"v":0.53},{"s":"D","z":0.5,"v":0.42},{"s":"D","z":0.55,"v":0.33},{"s":"D","z":0.6,"v":0.255},{"s":"D","z":0.65,"v":0.2},{"s":"D","z":0.7,"v":0.158},{"s":"D","z":0.75,"v":0.125},{"s":"D","z":0.8,"v":0.098},{"s":"D","z":0.85,"v":0.075},{"s":"D","z":0.9,"v":0.055},{"s":"D","z":0.95,"v":0.038},{"s":"D","z":1,"v":0.025},
{"s":"E","z":0,"v":0.25},{"s":"E","z":0.02,"v":0.32},{"s":"E","z":0.04,"v":0.4},{"s":"E","z":0.06,"v":0.47},{"s":"E","z":0.08,"v":0.505},{"s":"E","z":0.09,"v":0.505},{"s":"E","z":0.1,"v":0.49},{"s":"E","z":0.12,"v":0.44},{"s":"E","z":0.14,"v":0.385},{"s":"E","z":0.16,"v":0.355},{"s":"E","z":0.18,"v":0.36},{"s":"E","z":0.2,"v":0.39},{"s":"E","z":0.22,"v":0.44},{"s":"E","z":0.24,"v":0.5},{"s":"E","z":0.27,"v":0.575},{"s":"E","z":0.3,"v":0.66},{"s":"E","z":0.33,"v":0.76},{"s":"E","z":0.36,"v":0.855},{"s":"E","z":0.39,"v":0.935},{"s":"E","z":0.41,"v":0.975},{"s":"E","z":0.425,"v":0.995},{"s":"E","z":0.44,"v":0.995},{"s":"E","z":0.47,"v":0.985},{"s":"E","z":0.5,"v":0.955},{"s":"E","z":0.55,"v":0.86},{"s":"E","z":0.6,"v":0.74},{"s":"E","z":0.65,"v":0.615},{"s":"E","z":0.7,"v":0.505},{"s":"E","z":0.75,"v":0.405},{"s":"E","z":0.8,"v":0.32},{"s":"E","z":0.85,"v":0.25},{"s":"E","z":0.9,"v":0.19},{"s":"E","z":0.95,"v":0.135},{"s":"E","z":1,"v":0.085}
],
"circles": [
{"p":"C","z":0,"v":0},
{"p":"D","z":0.006,"v":0.955},{"p":"D","z":0.06,"v":0.955},{"p":"D","z":0.166,"v":0.955},{"p":"D","z":0.246,"v":0.955},
{"p":"E","z":0.004,"v":0.248},{"p":"E","z":0.085,"v":0.501},{"p":"E","z":0.165,"v":0.354},{"p":"E","z":0.241,"v":0.501}
]
},
"spacing": 96,
"hconcat": [
{"spacing": 0, "vconcat": [
{
  "width": 10, "height": 20,
  "view": {"stroke": null},
  "data": {"values": [{"t": ""}]},
  "mark": {"type": "text"},
  "encoding": {"text": {"field": "t"}}
},
{
  "width": 275, "height": 275,
  "title": {"text": "A", "anchor": "start", "font": "DejaVu Sans Condensed, Liberation Sans", "fontSize": 22, "fontWeight": "bold", "color": "#1a1a1a", "offset": 7},
  "view": {"stroke": "#2a2a2a", "strokeWidth": 1.3},
  "layer": [
    {
      "data": {"name": "hb"},
      "transform": [
        {"bin": {"step": 0.05, "extent": [-1.025, 1.025], "nice": false}, "field": "x", "as": ["x0", "x1"]},
        {"bin": {"step": 0.025, "extent": [0, 0.225], "nice": false}, "field": "z", "as": ["z0", "z1"]}
      ],
      "mark": {"type": "rect", "x2Offset": 0.5, "y2Offset": -0.5},
      "encoding": {
        "x": {"field": "x0", "type": "quantitative", "scale": {"domain": [-1.053, 1.03], "nice": false, "zero": false},
          "axis": {"orient": "bottom", "values": [-1, 0, 1], "labelExpr": "datum.value == -1 ? '−λ₀/4' : (datum.value == 0 ? '0' : 'λ₀/4')",
            "labelFont": {"condition": {"test": "datum.value == 0", "value": "Liberation Sans"}, "value": "DejaVu Serif"},
            "labelFontSize": 20, "labelPadding": 12,
            "title": "x", "titleFont": "DejaVu Serif", "titleFontStyle": "italic", "titleFontWeight": "normal", "titleFontSize": 26,
            "titleX": 284, "titleY": -7, "titleAlign": "left", "titleBaseline": "middle", "titleAngle": 0}},
        "x2": {"field": "x1"},
        "y": {"field": "z0", "type": "quantitative", "scale": {"domain": [-0.023, 1.039], "nice": false, "zero": false},
          "axis": {"orient": "left", "values": [0, 0.5, 1], "labelExpr": "datum.value == 0 ? '0' : (datum.value == 1 ? 'λ₀/4' : 'z')",
            "labelFont": {"condition": {"test": "datum.value == 0", "value": "Liberation Sans"}, "value": "DejaVu Serif"},
            "labelFontStyle": {"condition": {"test": "datum.value == 0.5", "value": "italic"}, "value": "normal"},
            "labelFontSize": {"condition": {"test": "datum.value == 0.5", "value": 28}, "value": 20},
            "labelPadding": 11, "title": null}},
        "y2": {"field": "z1"},
        "color": {"field": "v", "type": "quantitative",
          "scale": {"domain": [0, 0.1, 0.2, 0.3, 0.4, 0.5, 0.6, 0.7, 0.8, 0.9, 1], "range": ["#2b5c9e", "#3b78b6", "#5694c6", "#84b5d7", "#b7d8df", "#dfe2c6", "#e3c89c", "#d8a178", "#c0735c", "#a1464b", "#7b1f36"]},
          "legend": {"type": "gradient", "orient": "none", "legendX": 302, "legendY": 103, "direction": "vertical", "title": "Iₐᵣₑₙₐ",
            "titleFont": "DejaVu Serif", "titleFontStyle": "italic", "titleFontWeight": "normal", "titleFontSize": 25, "titleColor": "#222", "titlePadding": 14,
            "titleAnchor": "middle", "titleAlign": "center",
            "gradientLength": 144, "gradientThickness": 23, "gradientStrokeColor": "#333", "gradientStrokeWidth": 1,
            "values": [0, 1], "labelExpr": "datum.value == 0 ? '0' : '1'", "labelAlign": "right", "labelOffset": -38, "labelFont": "Liberation Sans", "labelFontSize": 21, "labelColor": "#222"}}
      }
    },
    {
      "data": {"name": "ht"},
      "transform": [
        {"bin": {"step": 0.1, "extent": [-1.05, 1.05], "nice": false}, "field": "x", "as": ["x0", "x1"]},
        {"bin": {"step": 0.1, "extent": [0.225, 1.025], "nice": false}, "field": "z", "as": ["z0", "z1"]}
      ],
      "mark": {"type": "rect", "x2Offset": 0.5, "y2Offset": -0.5},
      "encoding": {
        "x": {"field": "x0", "type": "quantitative", "axis": null},
        "x2": {"field": "x1"},
        "y": {"field": "z0", "type": "quantitative", "axis": null},
        "y2": {"field": "z1"},
        "color": {"field": "v", "type": "quantitative"}
      }
    },
    {
      "data": {"name": "cont"},
      "mark": {"type": "line", "color": "#f2f2f2", "strokeWidth": 1.3, "interpolate": "catmull-rom"},
      "encoding": {
        "x": {"field": "x", "type": "quantitative", "axis": {"orient": "top", "values": [-1, 0, 1], "labels": false, "title": null}},
        "y": {"field": "z", "type": "quantitative", "axis": {"orient": "right", "values": [0, 0.5, 1], "labels": false, "title": null}},
        "detail": {"field": "c"},
        "order": {"field": "i", "type": "quantitative"}
      }
    },
    {
      "data": {"name": "lead"},
      "mark": {"type": "line", "color": "#ffffff", "strokeWidth": 1.5},
      "encoding": {
        "x": {"field": "x", "type": "quantitative", "axis": null},
        "y": {"field": "z", "type": "quantitative", "axis": null},
        "detail": {"field": "c"},
        "order": {"field": "i", "type": "quantitative"}
      }
    },
    {
      "mark": {"type": "rule", "color": "#222", "strokeWidth": 1.5, "strokeDash": [7, 5]},
      "encoding": {"x": {"datum": 0, "type": "quantitative", "axis": null}}
    },
    {
      "data": {"name": "alabs"},
      "mark": {"type": "text", "color": "white", "font": "Liberation Sans", "fontSize": 19},
      "encoding": {
        "x": {"field": "x", "type": "quantitative", "axis": null},
        "y": {"field": "z", "type": "quantitative", "axis": null},
        "text": {"field": "t"}
      }
    }
  ],
  "resolve": {"axis": {"x": "independent", "y": "independent"}}
}
]},
{
  "spacing": 1,
  "vconcat": [
    {
      "spacing": 14,
      "hconcat": [
        {
          "width": 173, "height": 173,
          "view": {"stroke": "#8c8c8c", "strokeWidth": 1.3},
          "layer": [
            {"mark": {"type": "rule", "color": "#cfcfcf", "strokeWidth": 1}, "encoding": {"y": {"datum": 0, "type": "quantitative", "scale": {"domain": [-0.057, 1.047], "nice": false, "zero": false}, "axis": null}}},
            {"mark": {"type": "rule", "color": "#cfcfcf", "strokeWidth": 1}, "encoding": {"x": {"datum": 0, "type": "quantitative", "scale": {"domain": [-0.018, 1.018], "nice": false, "zero": false}, "axis": null}}},
            {"data": {"name": "curves"}, "transform": [{"filter": "datum.s == 'blue'"}], "mark": {"type": "line", "color": "#2e3192", "strokeWidth": 1.5, "interpolate": "monotone"},
              "encoding": {
                "x": {"field": "z", "type": "quantitative", "axis": {"orient": "bottom", "values": [0, 1], "labels": false, "title": null}},
                "y": {"field": "v", "type": "quantitative", "axis": {"orient": "left", "values": [0, 1], "labelExpr": "datum.value == 0 ? '0' : '1'", "labelFont": "Liberation Sans", "labelFontSize": 24, "labelPadding": 11,
                  "title": "Iₐᵣₑₙₐ(0, z)", "titleFont": "DejaVu Serif", "titleFontStyle": "italic", "titleFontWeight": "normal", "titleFontSize": 28, "titlePadding": 4}}}},
            {"data": {"name": "curves"}, "transform": [{"filter": "datum.s == 'B'"}], "mark": {"type": "line", "color": "#d2202f", "strokeWidth": 1.5, "interpolate": "monotone"},
              "encoding": {
                "x": {"field": "z", "type": "quantitative", "axis": {"orient": "top", "values": [0, 1], "labels": false, "title": null}},
                "y": {"field": "v", "type": "quantitative", "axis": {"orient": "right", "values": [0, 1], "labels": false, "title": null}}}},
            {"data": {"values": [{"t": "B", "z": 0.82, "v": 0.865}]}, "mark": {"type": "text", "font": "DejaVu Sans Condensed, Liberation Sans", "fontWeight": "bold", "fontSize": 25, "color": "#111"},
              "encoding": {"x": {"field": "z", "type": "quantitative", "axis": null}, "y": {"field": "v", "type": "quantitative", "axis": null}, "text": {"field": "t"}}}
          ],
          "resolve": {"axis": {"x": "independent", "y": "independent"}}
        },
        {
          "width": 173, "height": 173,
          "view": {"stroke": "#8c8c8c", "strokeWidth": 1.3},
          "layer": [
            {"mark": {"type": "rule", "color": "#cfcfcf", "strokeWidth": 1}, "encoding": {"y": {"datum": 0, "type": "quantitative", "scale": {"domain": [-0.057, 1.047], "nice": false, "zero": false}, "axis": null}}},
            {"mark": {"type": "rule", "color": "#cfcfcf", "strokeWidth": 1}, "encoding": {"x": {"datum": 0, "type": "quantitative", "scale": {"domain": [-0.018, 1.018], "nice": false, "zero": false}, "axis": null}}},
            {"data": {"name": "curves"}, "transform": [{"filter": "datum.s == 'blue'"}], "mark": {"type": "line", "color": "#2e3192", "strokeWidth": 1.5, "interpolate": "monotone"},
              "encoding": {
                "x": {"field": "z", "type": "quantitative", "axis": {"orient": "bottom", "values": [0, 1], "labels": false, "title": null}},
                "y": {"field": "v", "type": "quantitative", "axis": {"orient": "left", "values": [0, 1], "labels": false, "title": null}}}},
            {"data": {"name": "curves"}, "transform": [{"filter": "datum.s == 'C'"}], "mark": {"type": "line", "color": "#d2202f", "strokeWidth": 1.5, "interpolate": "monotone"},
              "encoding": {
                "x": {"field": "z", "type": "quantitative", "axis": {"orient": "top", "values": [0, 1], "labels": false, "title": null}},
                "y": {"field": "v", "type": "quantitative", "axis": {"orient": "right", "values": [0, 1], "labels": false, "title": null}}}},
            {"data": {"name": "circles"}, "transform": [{"filter": "datum.p == 'C'"}], "mark": {"type": "point", "shape": "circle", "filled": false, "color": "#1fa347", "strokeWidth": 1.5, "size": 50},
              "encoding": {"x": {"field": "z", "type": "quantitative", "axis": null}, "y": {"field": "v", "type": "quantitative", "axis": null}}},
            {"data": {"values": [{"t": "C", "z": 0.86, "v": 0.865}]}, "mark": {"type": "text", "font": "DejaVu Sans Condensed, Liberation Sans", "fontWeight": "bold", "fontSize": 25, "color": "#111"},
              "encoding": {"x": {"field": "z", "type": "quantitative", "axis": null}, "y": {"field": "v", "type": "quantitative", "axis": null}, "text": {"field": "t"}}}
          ],
          "resolve": {"axis": {"x": "independent", "y": "independent"}}
        }
      ]
    },
    {
      "spacing": 14,
      "hconcat": [
        {
          "width": 173, "height": 175,
          "view": {"stroke": "#8c8c8c", "strokeWidth": 1.3},
          "layer": [
            {"mark": {"type": "rule", "color": "#cfcfcf", "strokeWidth": 1}, "encoding": {"y": {"datum": 0, "type": "quantitative", "scale": {"domain": [-0.057, 1.047], "nice": false, "zero": false}, "axis": null}}},
            {"mark": {"type": "rule", "color": "#cfcfcf", "strokeWidth": 1}, "encoding": {"x": {"datum": 0, "type": "quantitative", "scale": {"domain": [-0.018, 1.018], "nice": false, "zero": false}, "axis": null}}},
            {"data": {"name": "curves"}, "transform": [{"filter": "datum.s == 'blue'"}], "mark": {"type": "line", "color": "#2e3192", "strokeWidth": 1.5, "interpolate": "monotone"},
              "encoding": {
                "x": {"field": "z", "type": "quantitative", "axis": {"orient": "bottom", "values": [0, 1], "labelExpr": "datum.value == 0 ? '0' : 'λ₀'",
                  "labelFont": {"condition": {"test": "datum.value == 0", "value": "Liberation Sans"}, "value": "DejaVu Serif"}, "labelFontSize": 21, "labelPadding": 9,
                  "title": "z", "titleFont": "DejaVu Serif", "titleFontStyle": "italic", "titleFontWeight": "normal", "titleFontSize": 30,
                  "titleX": 86, "titleY": 28, "titleAlign": "center", "titleBaseline": "alphabetic"}},
                "y": {"field": "v", "type": "quantitative", "axis": {"orient": "left", "values": [0, 1], "labelExpr": "datum.value == 0 ? '0' : '1'", "labelFont": "Liberation Sans", "labelFontSize": 24, "labelPadding": 11,
                  "title": "Iₐᵣₑₙₐ(0, z)", "titleFont": "DejaVu Serif", "titleFontStyle": "italic", "titleFontWeight": "normal", "titleFontSize": 28, "titlePadding": 4}}}},
            {"data": {"name": "curves"}, "transform": [{"filter": "datum.s == 'D'"}], "mark": {"type": "line", "color": "#d2202f", "strokeWidth": 1.5, "interpolate": "monotone"},
              "encoding": {
                "x": {"field": "z", "type": "quantitative", "axis": {"orient": "top", "values": [0, 1], "labels": false, "title": null}},
                "y": {"field": "v", "type": "quantitative", "axis": {"orient": "right", "values": [0, 1], "labels": false, "title": null}}}},
            {"data": {"name": "circles"}, "transform": [{"filter": "datum.p == 'D'"}], "mark": {"type": "point", "shape": "circle", "filled": false, "color": "#1fa347", "strokeWidth": 1.5, "size": 50},
              "encoding": {"x": {"field": "z", "type": "quantitative", "axis": null}, "y": {"field": "v", "type": "quantitative", "axis": null}}},
            {"data": {"values": [{"t": "D", "z": 0.84, "v": 0.87}]}, "mark": {"type": "text", "font": "DejaVu Sans Condensed, Liberation Sans", "fontWeight": "bold", "fontSize": 25, "color": "#111"},
              "encoding": {"x": {"field": "z", "type": "quantitative", "axis": null}, "y": {"field": "v", "type": "quantitative", "axis": null}, "text": {"field": "t"}}}
          ],
          "resolve": {"axis": {"x": "independent", "y": "independent"}}
        },
        {
          "width": 173, "height": 175,
          "view": {"stroke": "#8c8c8c", "strokeWidth": 1.3},
          "layer": [
            {"mark": {"type": "rule", "color": "#cfcfcf", "strokeWidth": 1}, "encoding": {"y": {"datum": 0, "type": "quantitative", "scale": {"domain": [-0.057, 1.047], "nice": false, "zero": false}, "axis": null}}},
            {"mark": {"type": "rule", "color": "#cfcfcf", "strokeWidth": 1}, "encoding": {"x": {"datum": 0, "type": "quantitative", "scale": {"domain": [-0.018, 1.018], "nice": false, "zero": false}, "axis": null}}},
            {"data": {"name": "curves"}, "transform": [{"filter": "datum.s == 'blue'"}], "mark": {"type": "line", "color": "#2e3192", "strokeWidth": 1.5, "interpolate": "monotone"},
              "encoding": {
                "x": {"field": "z", "type": "quantitative", "axis": {"orient": "bottom", "values": [0, 1], "labelExpr": "datum.value == 0 ? '0' : 'λ₀'",
                  "labelFont": {"condition": {"test": "datum.value == 0", "value": "Liberation Sans"}, "value": "DejaVu Serif"}, "labelFontSize": 21, "labelPadding": 9,
                  "labelAlign": {"condition": {"test": "datum.value == 1", "value": "right"}, "value": "center"},
                  "title": "z", "titleFont": "DejaVu Serif", "titleFontStyle": "italic", "titleFontWeight": "normal", "titleFontSize": 30,
                  "titleX": 86, "titleY": 28, "titleAlign": "center", "titleBaseline": "alphabetic"}},
                "y": {"field": "v", "type": "quantitative", "axis": {"orient": "left", "values": [0, 1], "labels": false, "title": null}}}},
            {"data": {"name": "curves"}, "transform": [{"filter": "datum.s == 'E'"}], "mark": {"type": "line", "color": "#d2202f", "strokeWidth": 1.5, "interpolate": "monotone"},
              "encoding": {
                "x": {"field": "z", "type": "quantitative", "axis": {"orient": "top", "values": [0, 1], "labels": false, "title": null}},
                "y": {"field": "v", "type": "quantitative", "axis": {"orient": "right", "values": [0, 1], "labels": false, "title": null}}}},
            {"data": {"name": "circles"}, "transform": [{"filter": "datum.p == 'E'"}], "mark": {"type": "point", "shape": "circle", "filled": false, "color": "#1fa347", "strokeWidth": 1.5, "size": 50},
              "encoding": {"x": {"field": "z", "type": "quantitative", "axis": null}, "y": {"field": "v", "type": "quantitative", "axis": null}}},
            {"data": {"values": [{"t": "E", "z": 0.86, "v": 0.87}]}, "mark": {"type": "text", "font": "DejaVu Sans Condensed, Liberation Sans", "fontWeight": "bold", "fontSize": 25, "color": "#111"},
              "encoding": {"x": {"field": "z", "type": "quantitative", "axis": null}, "y": {"field": "v", "type": "quantitative", "axis": null}, "text": {"field": "t"}}}
          ],
          "resolve": {"axis": {"x": "independent", "y": "independent"}}
        }
      ]
    }
  ]
}
]
}
